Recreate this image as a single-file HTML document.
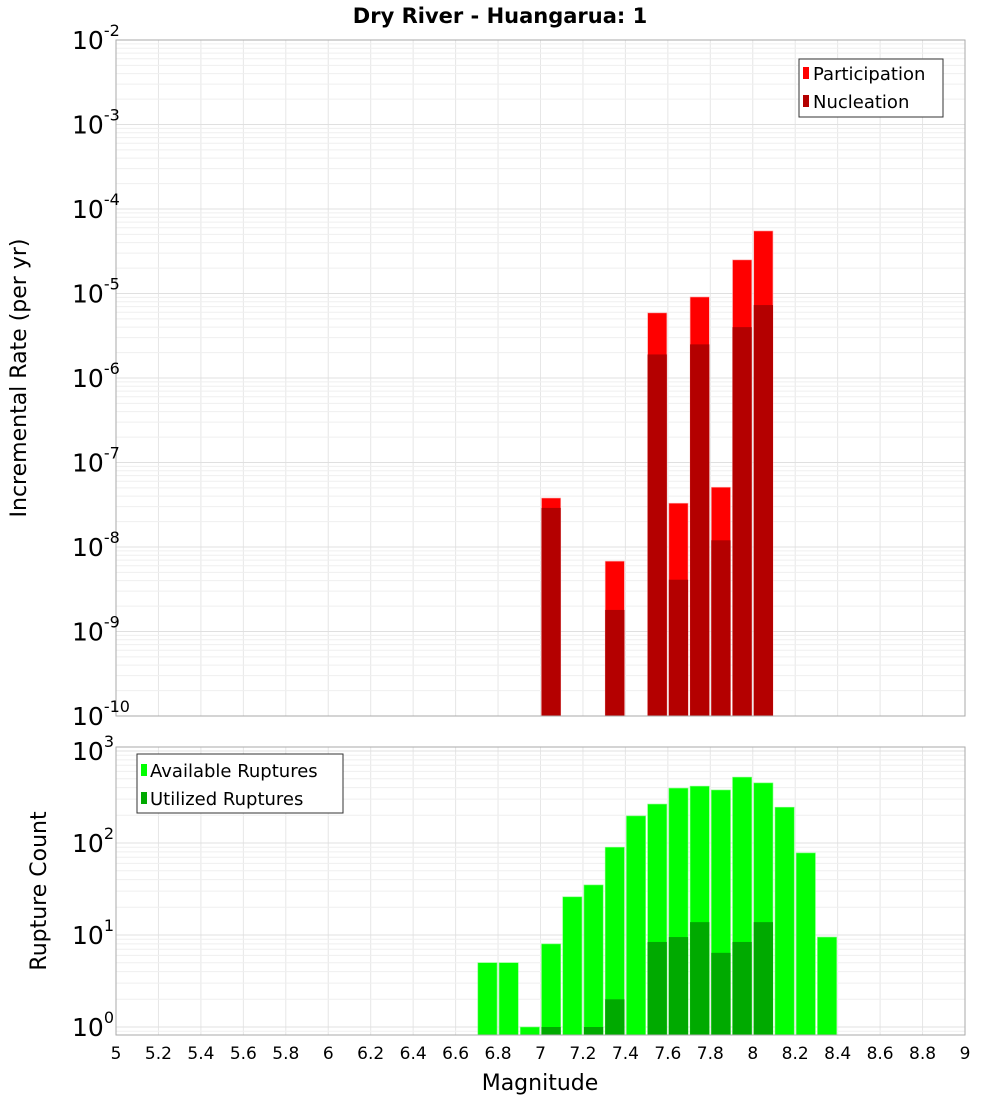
<!DOCTYPE html>
<html><head><meta charset="utf-8">
<style>
html,body{margin:0;padding:0;background:#fff;}
svg{display:block;font-family:"DejaVu Sans","Liberation Sans",sans-serif;}
</style></head>
<body>
<svg id="chart" width="1000" height="1100" viewBox="0 0 1000 1100" xmlns="http://www.w3.org/2000/svg">
<text x="500" y="23" text-anchor="middle" font-size="21" font-weight="bold">Dry River - Huangarua: 1</text>
<g id="top-grid"></g><g id="bot-grid"></g>
<g id="top-bars"></g><g id="bot-bars"></g>
<rect x="116" y="40" width="849" height="676" fill="none" stroke="#aaa"/>
<rect x="116" y="747" width="849" height="288" fill="none" stroke="#aaa"/>
<g id="top-yticks"></g><g id="bot-yticks"></g><g id="xticks"></g>
<text transform="translate(26,378) rotate(-90)" text-anchor="middle" font-size="22">Incremental Rate (per yr)</text>
<text transform="translate(46,891) rotate(-90)" text-anchor="middle" font-size="22">Rupture Count</text>
<text x="540" y="1090" text-anchor="middle" font-size="22">Magnitude</text>
<g>
<rect x="799" y="59" width="144" height="58" fill="#fff" stroke="#333"/>
<rect x="803" y="67" width="6" height="12" fill="#ff0000"/>
<text x="813" y="80" font-size="18">Participation</text>
<rect x="803" y="95" width="6" height="12" fill="#b40000"/>
<text x="813" y="108" font-size="18">Nucleation</text>
</g>
<g>
<rect x="137" y="754" width="206" height="59" fill="#fff" stroke="#333"/>
<rect x="141" y="764" width="6" height="12" fill="#00ff00"/>
<text x="150" y="777" font-size="18">Available Ruptures</text>
<rect x="141" y="792" width="6" height="12" fill="#00aa00"/>
<text x="150" y="805" font-size="18">Utilized Ruptures</text>
</g>
</svg>
<script>
const topMags = [7.05, 7.35, 7.55, 7.65, 7.75, 7.85, 7.95, 8.05];
const participation = [3.8e-8, 6.8e-9, 5.9e-6, 3.3e-8, 9.1e-6, 5.1e-8, 2.5e-5, 5.5e-5];
const nucleation = [2.9e-8, 1.8e-9, 1.9e-6, 4.1e-9, 2.5e-6, 1.2e-8, 4.0e-6, 7.3e-6];
const botMags = [6.75, 6.85, 6.95, 7.05, 7.15, 7.25, 7.35, 7.45, 7.55, 7.65, 7.75, 7.85, 7.95, 8.05, 8.15, 8.25, 8.35];
const available = [5, 5, 1, 8, 26, 35, 90, 197, 265, 395, 415, 377, 520, 450, 245, 78, 9.5];
const utilized = [0, 0, 0, 1, 0, 1, 2, 0, 8.4, 9.5, 13.8, 6.4, 8.4, 13.8, 0, 0, 0];
const xTickLabels = ["5","5.2","5.4","5.6","5.8","6","6.2","6.4","6.6","6.8","7","7.2","7.4","7.6","7.8","8","8.2","8.4","8.6","8.8","9"];
const topExps = [-10,-9,-8,-7,-6,-5,-4,-3,-2];
const botExps = [0,1,2,3];

const NS="http://www.w3.org/2000/svg";
const X0=116,X1=965,XMIN=5,XMAX=9;
const xs=m=>X0+(m-XMIN)/(XMAX-XMIN)*(X1-X0);
const yTop=v=>716-(Math.log10(v)+10)*84.5;
const yBot=v=>1027-Math.log10(v)*92;
function mk(tag,attrs,parent){const e=document.createElementNS(NS,tag);for(const k in attrs)e.setAttribute(k,attrs[k]);parent.appendChild(e);return e;}
const tg=document.getElementById('top-grid'),bg=document.getElementById('bot-grid');
// x grid + ticks
const xt=document.getElementById('xticks');
xTickLabels.forEach(l=>{const m=parseFloat(l);const x=xs(m);
 let g1=mk('line',{x1:x,x2:x,y1:40,y2:716,stroke:'#e6e6e6'},tg);
 
 
 let g2=mk('line',{x1:x,x2:x,y1:747,y2:1035,stroke:'#e6e6e6'},bg);
 
 
 let t=mk('text',{x:x,y:1059,'text-anchor':'middle','font-size':'17'},xt);t.textContent=l;
 
 
});
// top y grid
const tyt=document.getElementById('top-yticks');
topExps.forEach(e=>{
 for(let k=1;k<10;k++){if(e===-2&&k>1)break;const y=yTop(k*Math.pow(10,e));
  let l=mk('line',{x1:116,x2:965,y1:y,y2:y,stroke:k===1?'#e0e0e0':'#efefef'},tg);
  
  }
 const y=yTop(Math.pow(10,e));
 let t=mk('text',{x:72,y:y+9,'font-size':'25'},tyt);
 
 
 t.textContent='10';
 let s=mk('tspan',{dy:'-13','font-size':'16'},t);s.textContent=String(e);
});
// bottom y grid
const byt=document.getElementById('bot-yticks');
botExps.forEach(e=>{
 for(let k=1;k<10;k++){const y=yBot(k*Math.pow(10,e));if(y<747)break;
  let l=mk('line',{x1:116,x2:965,y1:y,y2:y,stroke:k===1?'#e0e0e0':'#efefef'},bg);
  
  }
 let y=yBot(Math.pow(10,e));let ty=Math.max(y+9,757);
 let t=mk('text',{x:72,y:ty,'font-size':'25'},byt);
 
 
 t.textContent='10';
 let s=mk('tspan',{dy:'-13','font-size':'16'},t);s.textContent=String(e);
});
// annotate 0.8 floor for bottom below 10^0
for(const v of [0.8,0.9]){const y=yBot(v);if(y<1035){let l=mk('line',{x1:116,x2:965,y1:y,y2:y,stroke:'#efefef'},bg);
 
 }}
// top bars
const tb=document.getElementById('top-bars');
topMags.forEach((m,i)=>{const x=xs(m-0.05)+1,w=xs(m+0.05)-xs(m-0.05)-2;
 let yp=yTop(participation[i]);let r=mk('rect',{x:x,y:yp,width:w,height:716-yp,fill:'#ff0000',stroke:'#ffb0b0','stroke-width':'0.6'},tb);
 
 
 let yn=yTop(nucleation[i]);let r2=mk('rect',{x:x,y:yn,width:w,height:716-yn,fill:'#b40000'},tb);
 
 
});
// bottom bars
const bb=document.getElementById('bot-bars');
botMags.forEach((m,i)=>{const x=xs(m-0.05)+1,w=xs(m+0.05)-xs(m-0.05)-2;
 let ya=yBot(available[i]);let r=mk('rect',{x:x,y:ya,width:w,height:1035-ya,fill:'#00ff00',stroke:'#7fff7f','stroke-width':'0.6'},bb);
 
 
 if(utilized[i]>0){let yu=yBot(utilized[i]);let r2=mk('rect',{x:x,y:yu,width:w,height:1035-yu,fill:'#00aa00'},bb);
 
 }
});
</script>
</body></html>
